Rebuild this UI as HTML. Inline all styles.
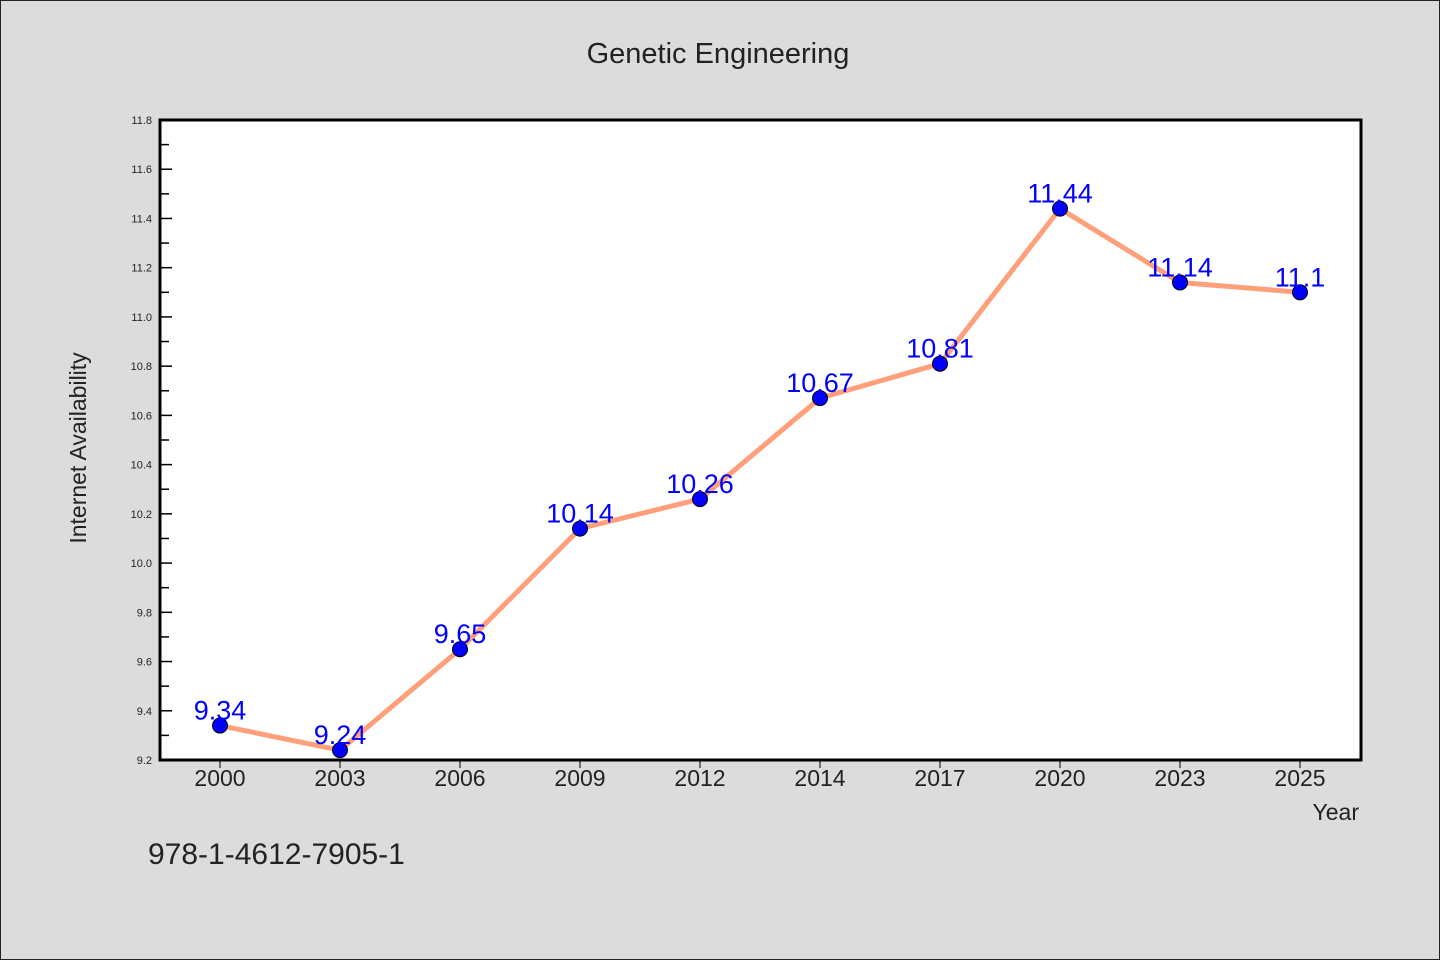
<!DOCTYPE html>
<html><head><meta charset="utf-8"><style>
html,body{margin:0;padding:0;background:#dcdcdc;}
svg{display:block;font-family:"WenQuanYi Zen Hei Mono","WenQuanYi Zen Hei","Liberation Sans",sans-serif;}
</style></head><body>
<svg width="1440" height="960">
<rect x="0.5" y="0.5" width="1439" height="959" fill="#dcdcdc" stroke="#222"/>
<text x="718" y="63" font-size="29" text-anchor="middle" fill="#222">Genetic Engineering</text>
<rect x="160" y="120" width="1201" height="640" fill="#fff"/>
<g id="axes"></g>
<g id="marks"></g>
<rect x="160" y="120" width="1201" height="640" fill="none" stroke="#000" stroke-width="3"/>
<text x="86" y="448" font-size="23" text-anchor="middle" fill="#222" transform="rotate(-90 86 448)">Internet Availability</text>
<text x="1359" y="820" font-size="23" text-anchor="end" fill="#222">Year</text>
<text x="148" y="864" font-size="30" fill="#222">978-1-4612-7905-1</text>
</svg>
<script>
const categories=["2000","2003","2006","2009","2012","2014","2017","2020","2023","2025"];
const values=[9.34,9.24,9.65,10.14,10.26,10.67,10.81,11.44,11.14,11.1];
const labels=["9.34","9.24","9.65","10.14","10.26","10.67","10.81","11.44","11.14","11.1"];
const yTicks=[9.2,9.4,9.6,9.8,10.0,10.2,10.4,10.6,10.8,11.0,11.2,11.4,11.6,11.8];
(function(){
const NS="http://www.w3.org/2000/svg";
const yMin=9.2,yMax=11.8,yTop=120,yBot=760;
function y(v){return yBot-(v-yMin)/(yMax-yMin)*(yBot-yTop);}
function x(i){return 220+i*120;}
function mk(t,a,p){const e=document.createElementNS(NS,t);for(const k in a)e.setAttribute(k,a[k]);p.appendChild(e);return e;}
const ax=document.getElementById('axes'),mg=document.getElementById('marks');
yTicks.forEach((v,i)=>{
 const l=mk('line',{x1:160,x2:172,y1:y(v),y2:y(v),stroke:'#000','stroke-width':1.5},ax);
 
 
 const t=mk('text',{x:152,y:y(v)+4,'font-size':11,'text-anchor':'end',fill:'#222'},ax);
 t.textContent=v.toFixed(1);
 
 
 if(i<yTicks.length-1){const m=mk('line',{x1:160,x2:169,y1:y(v+0.1),y2:y(v+0.1),stroke:'#000','stroke-width':1.5},ax);
 
 }
});
categories.forEach((c,i)=>{
 const l=mk('line',{x1:x(i),x2:x(i),y1:760,y2:768,stroke:'#000','stroke-width':1},ax);
 
 
 const t=mk('text',{x:x(i),y:786,'font-size':23,'text-anchor':'middle',fill:'#222'},ax);
 t.textContent=c;
 
 
});
const pts=values.map((v,i)=>x(i)+','+y(v)).join(' ');
const pl=mk('polyline',{points:pts,fill:'none',stroke:'#ffa07a','stroke-width':5,'stroke-linejoin':'round'},mg);


values.forEach((v,i)=>{
 const c=mk('circle',{cx:x(i),cy:y(v),r:7.5,fill:'#0000ff',stroke:'#000','stroke-width':1},mg);
 
 
 const t=mk('text',{x:x(i),y:y(v)-6,'font-size':27,'text-anchor':'middle',fill:'#0000ff'},mg);
 t.textContent=labels[i];
 
 
});
})();
</script>
</body></html>
